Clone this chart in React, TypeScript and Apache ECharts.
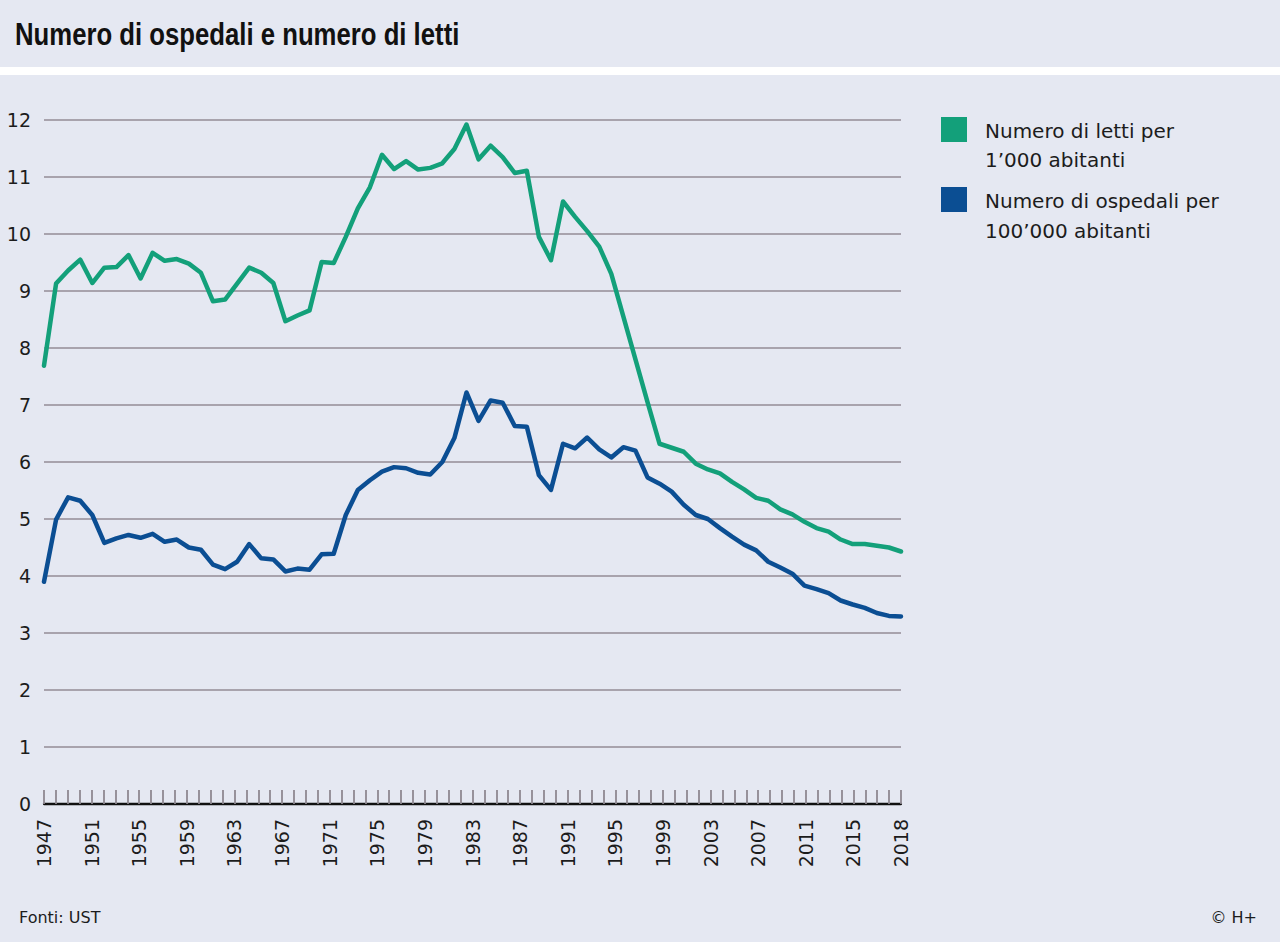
import React, { useEffect, useRef } from "react";
import * as echarts from "echarts";

const years = [
  "1947","1948","1949","1950","1951","1952","1953","1954","1955","1956",
  "1957","1958","1959","1960","1961","1962","1963","1964","1965","1966",
  "1967","1968","1969","1970","1971","1972","1973","1974","1975","1976",
  "1977","1978","1979","1980","1981","1982","1983","1984","1985","1986",
  "1987","1988","1989","1990","1991","1992","1993","1994","1995","1996",
  "1997","1998","1999","2000","2001","2002","2003","2004","2005","2006",
  "2007","2008","2009","2010","2011","2012","2013","2014","2015","2016",
  "2017","2018",
];

// Numero di letti per 1'000 abitanti
const beds = [
  7.69, 9.13, 9.36, 9.55, 9.14, 9.41, 9.42, 9.63, 9.22, 9.67,
  9.53, 9.56, 9.48, 9.32, 8.82, 8.85, 9.13, 9.41, 9.32, 9.14,
  8.47, 8.57, 8.66, 9.51, 9.49, 9.95, 10.45, 10.82, 11.39, 11.14,
  11.28, 11.13, 11.16, 11.24, 11.49, 11.92, 11.31, 11.55, 11.35, 11.07,
  11.11, 9.95, 9.54, 10.57, 10.3, 10.05, 9.78, 9.3, 8.55, 7.8,
  7.05, 6.32, 6.25, 6.18, 5.97, 5.87, 5.8, 5.65, 5.52, 5.37,
  5.32, 5.17, 5.08, 4.95, 4.84, 4.78, 4.64, 4.56, 4.56, 4.53,
  4.5, 4.43,
];

// Numero di ospedali per 100'000 abitanti
const hospitals = [
  3.9, 4.99, 5.38, 5.32, 5.07, 4.58, 4.66, 4.72, 4.67, 4.74,
  4.6, 4.64, 4.5, 4.46, 4.2, 4.12, 4.25, 4.56, 4.31, 4.29,
  4.08, 4.13, 4.11, 4.38, 4.39, 5.07, 5.51, 5.68, 5.83, 5.91,
  5.89, 5.81, 5.78, 6.0, 6.42, 7.22, 6.72, 7.08, 7.04, 6.63,
  6.62, 5.77, 5.51, 6.32, 6.24, 6.43, 6.22, 6.08, 6.26, 6.2,
  5.73, 5.62, 5.48, 5.25, 5.07, 5.0, 4.84, 4.69, 4.55, 4.45,
  4.25, 4.15, 4.04, 3.83, 3.77, 3.7, 3.57, 3.5, 3.44, 3.35,
  3.3, 3.29,
];

// labels under every 4th of the 73 tick marks
const tickLabels = [
  "1947","1951","1955","1959","1963","1967","1971","1975","1979","1983",
  "1987","1991","1995","1999","2003","2007","2011","2015","2018",
];

const TITLE = "Numero di ospedali e numero di letti";
const LEGEND_BEDS = ["Numero di letti per", "1\u2019000 abitanti"];
const LEGEND_HOSP = ["Numero di ospedali per", "100\u2019000 abitanti"];
const SOURCE = "Fonti: UST";
const CREDIT = "\u00A9 H+";

const GREEN = "#13A07A";
const BLUE = "#0B4E93";
const BG = "#E5E8F2";
const TXT = "#1C1C1C";
const FONT = "'DejaVu Sans', sans-serif";

export default function App() {
  const ref = useRef<HTMLDivElement>(null);

  useEffect(() => {
    document.body.style.margin = "0";
    if (!ref.current) return;
    const chart = echarts.init(ref.current, undefined, { renderer: "svg" });
    const nTicks = (tickLabels.length - 1) * 4;

    chart.setOption({
      animation: false,
      backgroundColor: BG,
      grid: { left: 44, right: 379, top: 120, bottom: 138, containLabel: false },
      xAxis: [
        {
          type: "category",
          data: years,
          boundaryGap: false,
          show: false,
        },
        {
          type: "value",
          min: 0,
          max: nTicks,
          interval: 1,
          position: "bottom",
          axisLine: { show: true, lineStyle: { color: "#111", width: 2.3 } },
          axisTick: {
            show: true,
            inside: true,
            length: 14,
            lineStyle: { color: "#8E8891", width: 1.8 },
          },
          splitLine: { show: false },
          axisLabel: {
            rotate: 90,
            margin: 15,
            fontFamily: FONT,
            fontSize: 19,
            color: TXT,
            formatter: (v: number) =>
              Math.round(v) % 4 === 0 ? tickLabels[Math.round(v) / 4] ?? "" : "",
          },
        },
      ],
      yAxis: {
        type: "value",
        min: 0,
        max: 12,
        interval: 1,
        axisLine: { show: false },
        axisTick: { show: false },
        splitLine: { lineStyle: { color: "#938D96", width: 1.5 } },
        axisLabel: { margin: 13, fontFamily: FONT, fontSize: 19, color: TXT },
      },
      series: [
        {
          name: LEGEND_HOSP.join(" "),
          type: "line",
          data: hospitals,
          xAxisIndex: 0,
          showSymbol: false,
          lineStyle: { color: BLUE, width: 4.5, join: "round", cap: "round" },
          itemStyle: { color: BLUE },
          z: 3,
        },
        {
          name: LEGEND_BEDS.join(" "),
          type: "line",
          data: beds,
          xAxisIndex: 0,
          showSymbol: false,
          lineStyle: { color: GREEN, width: 4.5, join: "round", cap: "round" },
          itemStyle: { color: GREEN },
          z: 3,
        },
      ],
      graphic: [
        { type: "rect", shape: { x: 0, y: 67, width: 1280, height: 8 }, style: { fill: "#FFFFFF" }, silent: true },
        {
          type: "text",
          x: 15,
          y: 34,
          scaleX: 0.83,
          style: {
            text: TITLE,
            fill: "#111",
            font: "bold 31px 'Liberation Sans', Arial, sans-serif",
            textVerticalAlign: "middle",
          },
        },
        { type: "rect", shape: { x: 941, y: 117, width: 26, height: 25 }, style: { fill: GREEN } },
        {
          type: "text",
          x: 985,
          y: 131,
          style: { text: LEGEND_BEDS[0], fill: TXT, font: `20px ${FONT}`, textVerticalAlign: "middle" },
        },
        {
          type: "text",
          x: 985,
          y: 160,
          style: { text: LEGEND_BEDS[1], fill: TXT, font: `20px ${FONT}`, textVerticalAlign: "middle" },
        },
        { type: "rect", shape: { x: 941, y: 187, width: 26, height: 25 }, style: { fill: BLUE } },
        {
          type: "text",
          x: 985,
          y: 201,
          style: { text: LEGEND_HOSP[0], fill: TXT, font: `20px ${FONT}`, textVerticalAlign: "middle" },
        },
        {
          type: "text",
          x: 985,
          y: 231,
          style: { text: LEGEND_HOSP[1], fill: TXT, font: `20px ${FONT}`, textVerticalAlign: "middle" },
        },
        {
          type: "text",
          x: 19,
          y: 917,
          style: { text: SOURCE, fill: TXT, font: `16px ${FONT}`, textVerticalAlign: "middle" },
        },
        {
          type: "text",
          x: 1257,
          y: 917,
          style: { text: CREDIT, fill: TXT, font: `16px ${FONT}`, textAlign: "right", textVerticalAlign: "middle" },
        },
      ],
    });

    return () => chart.dispose();
  }, []);

  return <div ref={ref} style={{ width: 1280, height: 942 }} />;
}
